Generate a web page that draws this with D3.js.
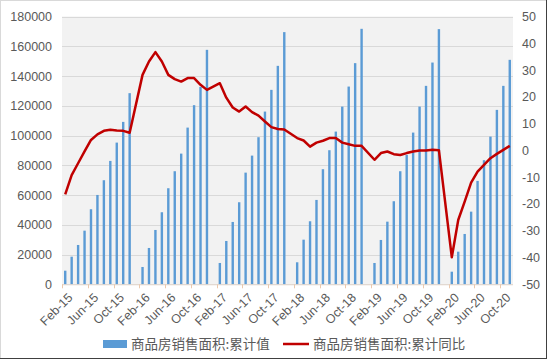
<!DOCTYPE html>
<html>
<head>
<meta charset="utf-8">
<script src="https://cdn.jsdelivr.net/npm/d3@7"></script>
<style>
  body { margin: 0; background: #fff; }
  svg { display: block; }
  .axis text { font-family: "Liberation Sans", Arial, sans-serif; font-size: 12.5px; fill: #595959; }
  .legend text { font-family: "Noto Sans CJK SC", sans-serif; font-size: 13.5px; fill: #595959; }
</style>
</head>
<body>
<div id="chart"></div>
<script>
// cumulative sales area (10k m2), one entry per reported month (Jan is merged into Feb)
var area2015 = [9150, 18560, 26430, 36050, 50450, 60060, 69950, 82930, 95240, 109160, 128470];
var area2016 = [11640, 24420, 36520, 48430, 64570, 76000, 87840, 105330, 120400, 132700, 157590];
var area2017 = [14330, 29120, 41900, 55150, 75060, 86500, 98870, 116090, 130690, 146830, 169500];
var area2018 = [14800, 30000, 42370, 56700, 77350, 90130, 102640, 119450, 132910, 148650, 171720];
var area2019 = [14330, 29800, 42100, 55830, 76000, 86970, 101970, 119450, 133380, 149050, 171510];
var area2020 = [8475, 21930, 33830, 48830, 69480, 83400, 99280, 117230, 133380, 150870];

// cumulative yoy (%)
var yoy2015 = [-16.4, -9.2, -4.8, -0.4, 3.9, 6.0, 7.3, 7.7, 7.4, 7.3, 6.6];
var yoy2016 = [28.2, 33.2, 36.7, 33.2, 28.2, 26.6, 25.7, 27.0, 27.0, 24.5, 22.6];
var yoy2017 = [25.1, 19.7, 16.0, 14.5, 16.4, 14.3, 13.0, 10.8, 8.7, 8.0, 7.8];
var yoy2018 = [4.6, 3.7, 1.4, 2.9, 3.6, 4.6, 4.6, 2.9, 2.3, 1.7, 1.7];
var yoy2019 = [-3.5, -1.0, -0.4, -1.4, -1.7, -1.0, -0.4, 0.0, 0.0, 0.2, 0.1];
var yoy2020 = [-39.9, -26.0, -19.1, -12.0, -7.9, -5.4, -2.9, -1.3, 0.2, 1.7];

var years = [2015, 2016, 2017, 2018, 2019, 2020];
var tickLabels = ["Feb-15", "Jun-15", "Oct-15", "Feb-16", "Jun-16", "Oct-16", "Feb-17", "Jun-17",
                  "Oct-17", "Feb-18", "Jun-18", "Oct-18", "Feb-19", "Jun-19", "Oct-19", "Feb-20",
                  "Jun-20", "Oct-20"];
var seriesNames = ["商品房销售面积:累计值", "商品房销售面积:累计同比"];

var fmt = d3.timeFormat("%b-%y");

// every calendar month on the date axis, Feb-15 .. Nov-20
var allMonths = d3.timeMonth.range(new Date(2015, 1, 1), new Date(2020, 11, 1)).map(fmt);

// join values to their months, Jan is skipped (no data)
var areas = [area2015, area2016, area2017, area2018, area2019, area2020];
var yoys  = [yoy2015, yoy2016, yoy2017, yoy2018, yoy2019, yoy2020];
var data = [];
years.forEach(function(y, i) {
  areas[i].forEach(function(v, j) {
    data.push({ key: fmt(new Date(y, j + 1, 1)), area: v, yoy: yoys[i][j] });
  });
});

var width = 550, height = 362;
var plot = { left: 62, right: 513, top: 16.5, bottom: 284.3 };

var svg = d3.select("#chart").append("svg")
    .attr("width", width)
    .attr("height", height);

// frame
svg.append("rect")
    .attr("x", 0.5).attr("y", 0.5)
    .attr("width", 546).attr("height", 358)
    .attr("fill", "#fff")
    .attr("stroke", "#d9d9d9");
svg.append("line").attr("x1", 546.5).attr("x2", 546.5).attr("y1", 0).attr("y2", 359)
    .attr("stroke", "#404040");
svg.append("line").attr("x1", 0).attr("x2", 547).attr("y1", 358.5).attr("y2", 358.5)
    .attr("stroke", "#404040");

var x = d3.scaleBand()
    .domain(allMonths)
    .range([plot.left, plot.right]);

var y = d3.scaleLinear()
    .domain([0, 180000])
    .range([plot.bottom, plot.top]);

var y2 = d3.scaleLinear()
    .domain([-50, 50])
    .range([plot.bottom, plot.top]);

// plot background
svg.append("rect")
    .attr("x", plot.left).attr("y", plot.top)
    .attr("width", plot.right - plot.left)
    .attr("height", plot.bottom - plot.top)
    .attr("fill", "#f2f2f2");

// gridlines
svg.append("g")
  .selectAll("line")
  .data(y.ticks(9))
  .join("line")
    .attr("x1", plot.left).attr("x2", plot.right)
    .attr("y1", function(d) { return Math.round(y(d)) + 0.5; })
    .attr("y2", function(d) { return Math.round(y(d)) + 0.5; })
    .attr("stroke", "#d9d9d9");

// bars
svg.append("g")
  .selectAll("rect")
  .data(data)
  .join("rect")
    .attr("x", function(d) { return x(d.key) + x.bandwidth() / 2 - 1.2; })
    .attr("width", 2.4)
    .attr("y", function(d) { return y(d.area); })
    .attr("height", function(d) { return y(0) - y(d.area); })
    .attr("fill", "#5b9bd5");

// x axis line and boundary ticks
svg.append("line")
    .attr("x1", plot.left).attr("x2", plot.right)
    .attr("y1", plot.bottom + 0.5).attr("y2", plot.bottom + 0.5)
    .attr("stroke", "#e6d9cf");
svg.append("g")
  .selectAll("line")
  .data(tickLabels)
  .join("line")
    .attr("x1", function(d) { return Math.round(x(d)) + 0.5; })
    .attr("x2", function(d) { return Math.round(x(d)) + 0.5; })
    .attr("y1", plot.bottom)
    .attr("y2", plot.bottom + 4)
    .attr("stroke", "#ecc9ad");

// x labels
svg.append("g")
    .attr("class", "axis")
  .selectAll("text")
  .data(tickLabels)
  .join("text")
    .attr("transform", function(d) {
      return "translate(" + (x(d) + x.bandwidth() / 2 + 5) + "," + (plot.bottom + 11) + ") rotate(-45)";
    })
    .attr("text-anchor", "end")
    .attr("dy", "0.35em")
    .text(function(d) { return d; });

// left axis
var gl = svg.append("g")
    .attr("class", "axis")
    .attr("transform", "translate(" + plot.left + ",0)")
    .call(d3.axisLeft(y).tickValues(y.ticks(9)).tickFormat(d3.format("d")).tickSize(0).tickPadding(10));
gl.select(".domain").remove();

// right axis
var gr = svg.append("g")
    .attr("class", "axis")
    .attr("transform", "translate(" + plot.right + ",0)")
    .call(d3.axisRight(y2).tickValues(d3.range(-50, 51, 10)).tickSize(0).tickPadding(9));
gr.select(".domain").remove();
gr.selectAll("text").text(function(d) { return d; });

// yoy line
var line = d3.line()
    .x(function(d) { return x(d.key) + x.bandwidth() / 2; })
    .y(function(d) { return y2(d.yoy); });

svg.append("path")
    .datum(data)
    .attr("fill", "none")
    .attr("stroke", "#c00000")
    .attr("stroke-width", 2.5)
    .attr("stroke-linejoin", "round")
    .attr("d", line);

// legend
var lg = svg.append("g").attr("class", "legend");
lg.append("rect")
    .attr("x", 103).attr("y", 340)
    .attr("width", 24).attr("height", 8)
    .attr("fill", "#5b9bd5");
lg.append("text")
    .attr("x", 131).attr("y", 344).attr("dy", "0.35em")
    .text(seriesNames[0]);
lg.append("line")
    .attr("x1", 283).attr("x2", 309)
    .attr("y1", 344).attr("y2", 344)
    .attr("stroke", "#c00000")
    .attr("stroke-width", 2.5);
lg.append("text")
    .attr("x", 313).attr("y", 344).attr("dy", "0.35em")
    .text(seriesNames[1]);
</script>
</body>
</html>
